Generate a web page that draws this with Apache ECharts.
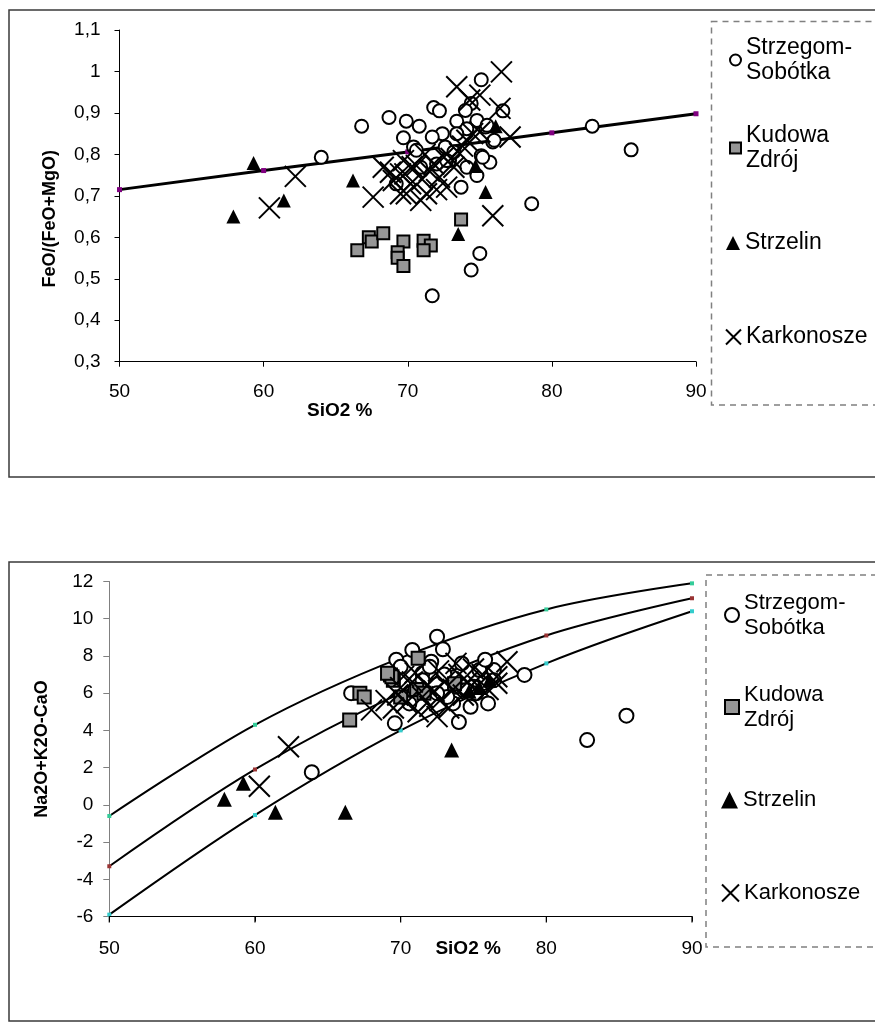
<!DOCTYPE html>
<html>
<head>
<meta charset="utf-8">
<script src="https://cdn.jsdelivr.net/npm/echarts@6/dist/echarts.min.js"></script>
<style>
  html, body { margin: 0; padding: 0; background: #fff; }
  #chart { width: 875px; height: 1023px; }
</style>
</head>
<body>
<div id="chart"></div>
<script>
// ---------- DATA ----------
const seriesNames = ['Strzegom-\nSobótka', 'Kudowa\nZdrój', 'Strzelin', 'Karkonosze'];
const xTicks = [50, 60, 70, 80, 90];

// Top chart: SiO2 % vs FeO/(FeO+MgO)
const topLine = [[50, 0.715], [60, 0.761], [70, 0.806], [80, 0.852], [90, 0.898]];
const topStrzegom = [[66.8,0.868],[68.7,0.889],[64.0,0.793],[69.9,0.880],[69.7,0.840],[69.2,0.729],[75.1,0.980],[71.8,0.913],[72.2,0.905],[70.8,0.868],[76.6,0.905],[74.4,0.923],[74.0,0.906],[73.4,0.880],[72.4,0.850],[71.7,0.842],[74.1,0.862],[73.4,0.850],[75.4,0.866],[75.9,0.830],[75.1,0.797],[75.7,0.781],[74.8,0.749],[73.7,0.721],[78.6,0.681],[82.8,0.868],[85.5,0.811],[75.0,0.561],[74.4,0.521],[71.7,0.459],[72.9,0.785],[70.9,0.769],[72.0,0.777],[74.1,0.769],[70.4,0.818],[72.6,0.818],[73.2,0.806],[74.8,0.882],[75.5,0.870],[76.0,0.834],[75.2,0.793],[70.6,0.810],[72.7,0.785]];
const topKudowa = [[66.5,0.569],[67.3,0.600],[67.5,0.590],[68.3,0.610],[69.7,0.590],[69.3,0.564],[69.3,0.551],[69.7,0.531],[71.1,0.592],[71.6,0.580],[71.1,0.569],[73.7,0.643]];
const topStrzelin = [[59.3,0.779],[57.9,0.650],[61.4,0.689],[66.2,0.737],[76.1,0.868],[75.4,0.709],[73.5,0.608],[74.7,0.772]];
const topKarkonosze = [[62.2,0.747],[60.4,0.671],[67.6,0.697],[68.8,0.757],[76.5,0.999],[73.4,0.963],[75.0,0.943],[74.3,0.931],[76.4,0.911],[77.1,0.842],[75.9,0.652],[70.6,0.773],[71.3,0.705],[70.2,0.729],[72.2,0.745],[72.7,0.721],[71.8,0.777],[73.2,0.769],[69.5,0.753],[74.1,0.834],[70.9,0.689],[69.9,0.705],[72.5,0.793],[73.6,0.802],[75.0,0.854],[68.3,0.769],[69.0,0.737],[69.5,0.705],[69.7,0.785],[69.8,0.753],[71.0,0.740],[71.5,0.760],[72.0,0.715],[73.0,0.790],[73.8,0.820],[74.5,0.850],[70.3,0.770],[71.2,0.800]];

// Bottom chart: SiO2 % vs Na2O+K2O-CaO
const botYMin = -6;
const botUpper = [[50, -0.6], [60, 4.3], [70, 7.9], [80, 10.5], [90, 11.9]];
const botMiddle = [[50, -3.3], [60, 1.9], [70, 6.0], [80, 9.1], [90, 11.1]];
const botLower = [[50, -5.9], [60, -0.55], [70, 4.0], [80, 7.6], [90, 10.4]];
const botStrzegom = [[63.9,1.75],[66.6,6.0],[69.7,7.8],[69.6,4.38],[72.5,9.03],[72.9,8.36],[70.8,8.32],[78.5,6.98],[85.5,4.79],[82.8,3.48],[74.0,4.45],[74.8,5.27],[76.0,5.45],[75.0,6.35],[73.6,5.45],[72.1,7.69],[71.5,7.07],[76.4,7.24],[70.0,7.42],[72.0,7.42],[75.4,7.24],[73.8,6.35],[71.5,6.7],[74.5,6.17],[76.4,6.7],[73.2,5.8],[70.6,5.45],[75.2,6.0],[73.0,7.0],[74.2,7.6],[71.0,6.2],[72.5,6.0],[75.8,7.8]];
const botKudowa = [[66.5,4.56],[67.2,6.0],[67.5,5.8],[69.3,6.97],[69.5,6.7],[71.2,7.87],[69.4,6.88],[69.1,7.07],[70.0,5.8],[71.1,6.2],[71.6,6.0],[73.7,6.5]];
const botStrzelin = [[57.9,0.3],[59.2,1.16],[61.4,-0.4],[66.2,-0.4],[73.5,2.95],[75.4,6.3],[76.1,6.7],[74.7,6.1]];
const botKarkonosze = [[62.3,3.12],[60.3,1.0],[68.0,5.1],[77.3,7.69],[76.6,6.88],[72.5,4.74],[76.6,6.53],[69.0,5.6],[69.5,5.2],[70.0,6.3],[70.4,5.5],[70.8,6.6],[71.2,5.0],[71.5,5.8],[71.8,6.4],[72.0,5.3],[72.3,6.1],[72.7,5.6],[73.0,6.6],[73.3,5.2],[73.6,6.2],[74.0,7.0],[74.3,5.9],[74.6,6.6],[75.0,7.3],[75.3,6.4],[75.6,7.0],[76.0,6.2],[70.2,6.9],[71.0,7.1],[72.6,7.2],[73.8,7.6],[69.8,5.9]];

// ---------- STYLE ----------
const FONT = '"Liberation Sans", Arial, sans-serif';
const xPath = 'path://M0,0L20,20M20,0L0,20';
const styles = {
  circle: { symbol: 'circle', itemStyle: { color: '#fff', borderColor: '#000', borderWidth: 2, opacity: 1 } },
  square: { symbol: 'rect', itemStyle: { color: '#969696', borderColor: '#000', borderWidth: 2, opacity: 1 } },
  tri: { symbol: 'triangle', itemStyle: { color: '#000', borderWidth: 0, opacity: 1 } },
  cross: { symbol: xPath, itemStyle: { color: 'rgba(0,0,0,0)', borderColor: '#000', borderWidth: 2, opacity: 1 } }
};
const kinds = ['circle', 'square', 'tri', 'cross'];
const sizesTop = [13, 12, 14, 21];
const sizesBot = [14, 13, 15, 21];

function scatter(name, kind, data, size, gi) {
  return Object.assign({
    type: 'scatter', name: name, data: data, symbolSize: size,
    xAxisIndex: gi, yAxisIndex: gi, z: 3, emphasis: { disabled: true }, animation: false
  }, JSON.parse(JSON.stringify(styles[kind])));
}

function xAxis(gi, nameOpts) {
  return Object.assign({
    type: 'value', gridIndex: gi, position: 'bottom', offset: 0, min: 50, max: 90, interval: 10,
    splitLine: { show: false },
    axisLine: { show: true, onZero: false, lineStyle: { color: '#000', width: 1 } },
    axisTick: { show: true, length: 5, lineStyle: { color: '#000' } },
    axisLabel: { color: '#000', fontSize: 19, fontFamily: FONT, margin: gi === 0 ? 21 : 23 },
    nameMoveOverlap: false
  }, nameOpts);
}

const topData = [topStrzegom, topKudowa, topStrzelin, topKarkonosze];
const botData = [botStrzegom, botKudowa, botStrzelin, botKarkonosze];

const series = [
  { type: 'line', data: topLine, xAxisIndex: 0, yAxisIndex: 0, z: 2, symbol: 'rect', symbolSize: 5, showSymbol: true,
    lineStyle: { color: '#000', width: 3 }, itemStyle: { color: '#800080' }, animation: false, emphasis: { disabled: true } },
  { type: 'line', data: botUpper, xAxisIndex: 1, yAxisIndex: 1, z: 2, smooth: 0.35, symbol: 'rect', symbolSize: 4,
    lineStyle: { color: '#000', width: 2 }, itemStyle: { color: '#33cc99' }, animation: false, emphasis: { disabled: true } },
  { type: 'line', data: botMiddle, xAxisIndex: 1, yAxisIndex: 1, z: 2, smooth: 0.35, symbol: 'rect', symbolSize: 4,
    lineStyle: { color: '#000', width: 2 }, itemStyle: { color: '#993333' }, animation: false, emphasis: { disabled: true } },
  { type: 'line', data: botLower, xAxisIndex: 1, yAxisIndex: 1, z: 2, smooth: 0.35, symbol: 'rect', symbolSize: 4,
    lineStyle: { color: '#000', width: 2 }, itemStyle: { color: '#33cccc' }, animation: false, emphasis: { disabled: true } }
];
kinds.forEach((k, i) => series.push(scatter(seriesNames[i], k, topData[i], sizesTop[i], 0)));
kinds.forEach((k, i) => series.push(scatter(seriesNames[i], k, botData[i], sizesBot[i], 1)));

// Legends: one component per entry, to match the reference spacing
const topLegendCenters = [60, 148, 243, 337];
const botLegendCenters = [615, 707, 800, 893];
const topIcon = [11, 11, 14, 15];
const botIcon = [14, 14, 17, 17];
const legends = [];
function addLegend(i, center, icon, textLeft, fs, lh) {
  const twoLine = seriesNames[i].indexOf('\n') >= 0;
  legends.push({
    data: [seriesNames[i]], orient: 'vertical', padding: 0,
    left: textLeft - 5 - icon, top: twoLine ? center - 1.5 * lh : center - lh / 2,
    itemWidth: icon, itemHeight: icon, selectedMode: false,
    textStyle: { fontSize: fs, fontFamily: FONT, color: '#000', lineHeight: lh, padding: twoLine ? [lh, 0, 0, 0] : 0 }
  });
}
for (let i = 0; i < 4; i++) addLegend(i, topLegendCenters[i], topIcon[i], 745, 23, 25);
for (let i = 0; i < 4; i++) addLegend(i, botLegendCenters[i], botIcon[i], 743, 22, 25);

const frames = [
  { id: 'f1', type: 'rect', z: -1, silent: true, shape: { x: 9, y: 10, width: 900, height: 467 },
    style: { fill: 'none', stroke: '#3a3a3a', lineWidth: 1.5 } },
  { id: 'f2', type: 'rect', z: -1, silent: true, shape: { x: 9, y: 562, width: 900, height: 459 },
    style: { fill: 'none', stroke: '#3a3a3a', lineWidth: 1.5 } },
  { id: 'l1', type: 'rect', z: -1, silent: true, shape: { x: 711.5, y: 21.5, width: 200, height: 383.5 },
    style: { fill: 'none', stroke: '#808080', lineWidth: 1.5, lineDash: [6, 5] } },
  { id: 'l2', type: 'rect', z: -1, silent: true, shape: { x: 706, y: 575, width: 200, height: 372 },
    style: { fill: 'none', stroke: '#808080', lineWidth: 1.5, lineDash: [6, 5] } }
];

const option = {
  backgroundColor: '#fff',
  animation: false,
  grid: [
    { left: 119.5, right: 875 - 696, top: 30, bottom: 1023 - 361.7 },
    { left: 109.3, right: 875 - 692, top: 581.5, bottom: 1023 - 916.5 }
  ],
  xAxis: [
    xAxis(0, { name: 'SiO2 %', nameLocation: 'middle', nameGap: 40,
      nameTextStyle: { fontSize: 19, fontWeight: 'bold', fontFamily: FONT, color: '#000', padding: [0, 136, 0, 0] } }),
    xAxis(1, { name: 'SiO2 %', nameLocation: 'middle', nameGap: 23,
      nameTextStyle: { fontSize: 19, fontWeight: 'bold', fontFamily: FONT, color: '#000', padding: [0, 0, 0, 135] } })
  ],
  yAxis: [
    { type: 'value', gridIndex: 0, position: 'left', min: 0.3, max: 1.1, interval: 0.1,
      name: 'FeO/(FeO+MgO)', nameLocation: 'middle', nameGap: 60, nameMoveOverlap: false,
      nameTextStyle: { fontSize: 18, fontWeight: 'bold', fontFamily: FONT, color: '#000', padding: [0, 46, 0, 0] },
      splitLine: { show: false },
      axisLine: { show: true, onZero: false, lineStyle: { color: '#000' } },
      axisTick: { show: true, length: 5, lineStyle: { color: '#000' } },
      axisLabel: { color: '#000', fontSize: 19, fontFamily: FONT, margin: 19,
        formatter: v => String(Math.round(v * 10) / 10).replace('.', ',') } },
    { type: 'value', gridIndex: 1, position: 'left', min: botYMin, max: 12, interval: 2,
      name: 'Na2O+K2O-CaO', nameLocation: 'middle', nameGap: 58, nameMoveOverlap: false,
      nameTextStyle: { fontSize: 18, fontWeight: 'bold', fontFamily: FONT, color: '#000' },
      splitLine: { show: false },
      axisLine: { show: true, onZero: false, lineStyle: { color: '#808080' } },
      axisTick: { show: true, length: 6, lineStyle: { color: '#808080' } },
      axisLabel: { color: '#000', fontSize: 19, fontFamily: FONT, margin: 16 } }
  ],
  legend: legends,
  graphic: frames,
  series: series
};

const chart = echarts.init(document.getElementById('chart'), null, { renderer: 'canvas' });
chart.setOption(option);

// Bottom x-axis line and ticks, placed through the chart's own scale
const finder = { xAxisIndex: 1, yAxisIndex: 1 };
const a0 = chart.convertToPixel(finder, [xTicks[0], botYMin]);
const a1 = chart.convertToPixel(finder, [xTicks[xTicks.length - 1], botYMin]);
const extra = [{ id: 'bx', type: 'line', z: 5, silent: true,
  shape: { x1: a0[0], y1: a0[1], x2: a1[0], y2: a1[1] }, style: { stroke: '#000', lineWidth: 1.2 } }];
xTicks.forEach((t, i) => {
  const p = chart.convertToPixel(finder, [t, botYMin]);
  extra.push({ id: 'bt' + i, type: 'line', z: 5, silent: true,
    shape: { x1: p[0], y1: p[1], x2: p[0], y2: p[1] + 6 }, style: { stroke: '#000', lineWidth: 1.2 } });
});
chart.setOption({ graphic: frames.concat(extra) });
</script>
</body>
</html>
